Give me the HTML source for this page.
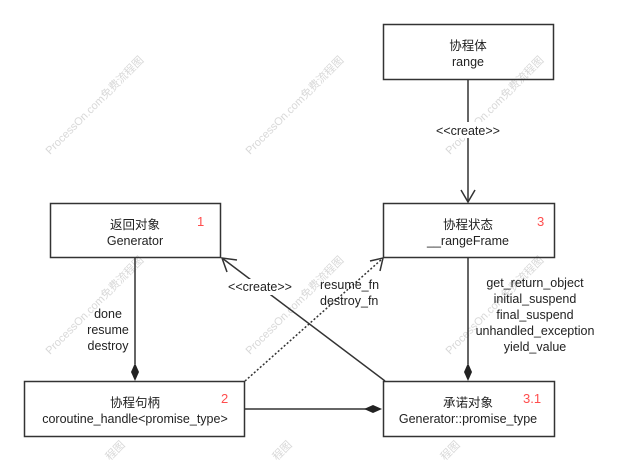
<!DOCTYPE html>
<html><head><meta charset="utf-8"><style>
html,body{margin:0;padding:0;background:#fff;}
svg{display:block;}
text{font-family:"Liberation Sans","Noto Sans CJK SC",sans-serif;font-size:12.5px;fill:#222;}
.r{fill:#ff4d4d;font-size:13px;}
.w{fill:#d8d8d8;font-size:11px;}
</style></head><body>
<svg width="625" height="461" viewBox="0 0 625 461" xmlns="http://www.w3.org/2000/svg">
<g class="wm">
<text class="w" transform="translate(50,155) rotate(-45)">ProcessOn.com免费流程图</text>
<text class="w" transform="translate(250,155) rotate(-45)">ProcessOn.com免费流程图</text>
<text class="w" transform="translate(450,155) rotate(-45)">ProcessOn.com免费流程图</text>
<text class="w" transform="translate(50,355) rotate(-45)">ProcessOn.com免费流程图</text>
<text class="w" transform="translate(250,355) rotate(-45)">ProcessOn.com免费流程图</text>
<text class="w" transform="translate(450,355) rotate(-45)">ProcessOn.com免费流程图</text>
<text class="w" transform="translate(110,461) rotate(-45)">程图</text>
<text class="w" transform="translate(277,461) rotate(-45)">程图</text>
<text class="w" transform="translate(445,461) rotate(-45)">程图</text>
</g>
<g fill="none" stroke="#333" stroke-width="1.5">
<rect x="383.5" y="24.5" width="170" height="55"/>
<rect x="383.5" y="203.5" width="171" height="54"/>
<rect x="50.5" y="203.5" width="170" height="54"/>
<rect x="24.5" y="381.5" width="220" height="55"/>
<rect x="383.5" y="381.5" width="171" height="55"/>
<line x1="468" y1="80" x2="468" y2="202"/>
<polyline points="461,190 468,202 475,190"/>
<line x1="135" y1="258" x2="135" y2="364"/>
<line x1="468" y1="258" x2="468" y2="364"/>
<line x1="245" y1="409" x2="368" y2="409"/>
<line x1="385" y1="381" x2="222" y2="258"/>
<polyline points="237,260 222,258 227,272"/>
<line x1="245" y1="381" x2="382" y2="259" stroke-dasharray="2,2"/>
<polyline points="370,261 383,258 380,271"/>
</g>
<g fill="#222">
<polygon points="135,363 139,372 135,381 131,372"/>
<polygon points="468,363 472,372 468,381 464,372"/>
<polygon points="364,409 373,405 382,409 373,413"/>
</g>
<rect x="225" y="279" width="72" height="16" fill="#fff"/>
<rect x="434" y="122" width="68" height="16" fill="#fff"/>
<text x="468" y="50" text-anchor="middle">协程体</text>
<text x="468" y="66" text-anchor="middle">range</text>
<text x="468" y="135" text-anchor="middle">&lt;&lt;create&gt;&gt;</text>
<text x="135" y="229" text-anchor="middle">返回对象</text>
<text x="135" y="245" text-anchor="middle">Generator</text>
<text class="r" x="197" y="226">1</text>
<text x="468" y="229" text-anchor="middle">协程状态</text>
<text x="468" y="245" text-anchor="middle">__rangeFrame</text>
<text class="r" x="537" y="226">3</text>
<text x="135" y="407" text-anchor="middle">协程句柄</text>
<text x="135" y="423" text-anchor="middle">coroutine_handle&lt;promise_type&gt;</text>
<text class="r" x="221" y="403">2</text>
<text x="468" y="407" text-anchor="middle">承诺对象</text>
<text x="468" y="423" text-anchor="middle">Generator::promise_type</text>
<text class="r" x="523" y="403">3.1</text>
<text x="260" y="291" text-anchor="middle">&lt;&lt;create&gt;&gt;</text>
<text x="320" y="289">resume_fn</text>
<text x="320" y="305">destroy_fn</text>
<text x="108" y="318" text-anchor="middle">done</text>
<text x="108" y="334" text-anchor="middle">resume</text>
<text x="108" y="350" text-anchor="middle">destroy</text>
<text x="535" y="287" text-anchor="middle">get_return_object</text>
<text x="535" y="303" text-anchor="middle">initial_suspend</text>
<text x="535" y="319" text-anchor="middle">final_suspend</text>
<text x="535" y="335" text-anchor="middle">unhandled_exception</text>
<text x="535" y="351" text-anchor="middle">yield_value</text>
</svg>
</body></html>
